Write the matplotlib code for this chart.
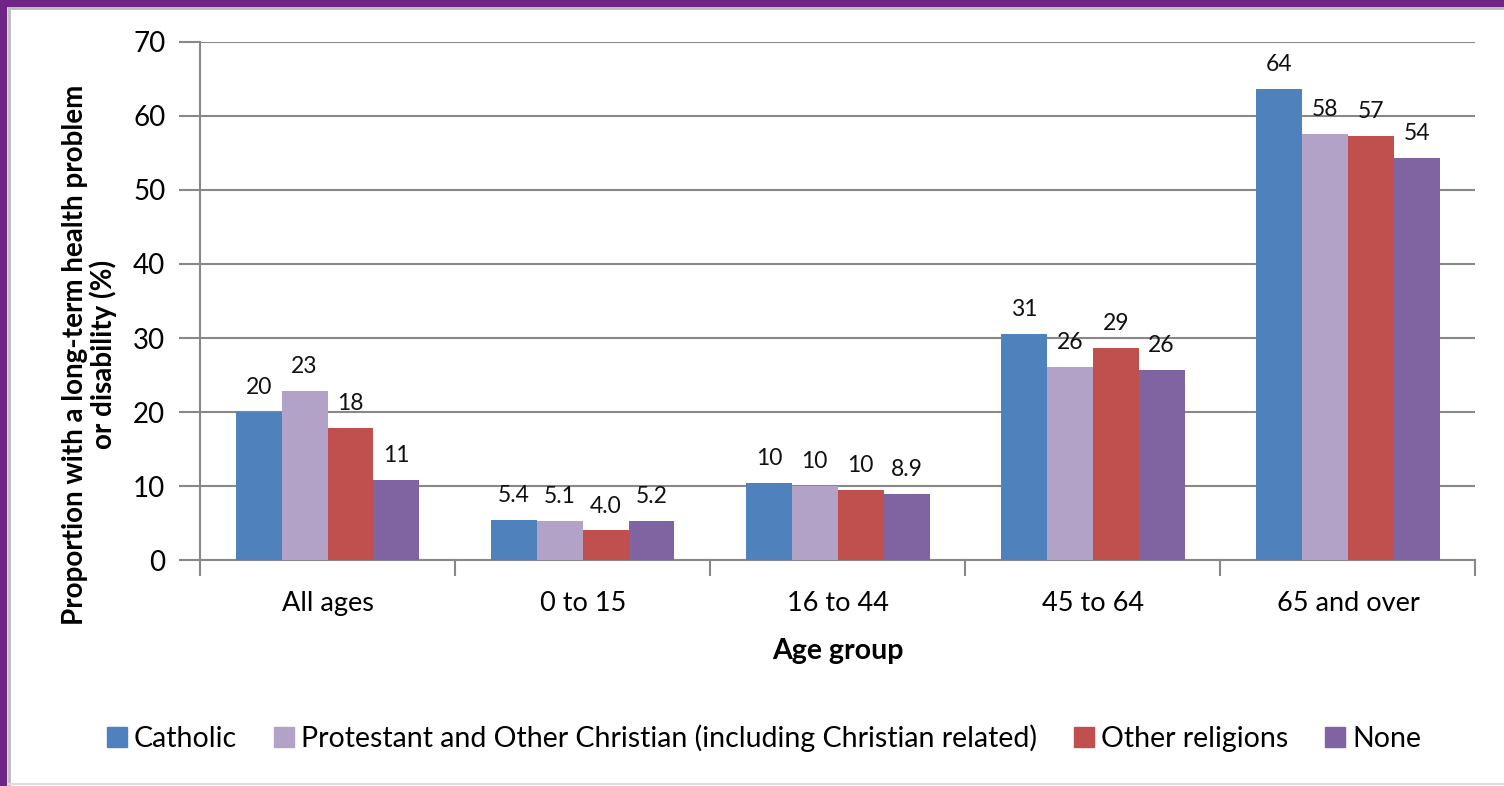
"""Long-term health problem or disability by religion and age group."""

import numpy as np
import matplotlib

matplotlib.use("Agg")
import matplotlib.pyplot as plt
from matplotlib.patches import Rectangle
from matplotlib.lines import Line2D

age_groups = ["All ages", "0 to 15", "16 to 44", "45 to 64", "65 and over"]
series_names = [
    "Catholic",
    "Protestant and Other Christian (including Christian related)",
    "Other religions",
    "None",
]
catholic = [20.0, 5.4, 10.4, 30.6, 63.7]
protestant = [22.8, 5.3, 10.0, 26.1, 57.6]
other_religions = [17.9, 4.0, 9.5, 28.6, 57.3]
no_religion = [10.8, 5.3, 8.9, 25.7, 54.3]
catholic_labels = ["20", "5.4", "10", "31", "64"]
protestant_labels = ["23", "5.1", "10", "26", "58"]
other_labels = ["18", "4.0", "10", "29", "57"]
none_labels = ["11", "5.2", "8.9", "26", "54"]
y_ticks = [0, 10, 20, 30, 40, 50, 60, 70]

colors = ["#4F81BD", "#B3A2C7", "#C0504D", "#8064A2"]
plt.rcParams["font.family"] = ["Lato", "DejaVu Sans"]

fig = plt.figure(figsize=(15.04, 7.86), dpi=100)
axis = fig.add_axes([0.133, 0.2875, 0.848, 0.6591])

series = [catholic, protestant, other_religions, no_religion]
labels = [catholic_labels, protestant_labels, other_labels, none_labels]
x = np.arange(len(age_groups))
bar_width = 0.18
for index, (values, texts) in enumerate(zip(series, labels)):
    offsets = x + (index - 1.5) * bar_width
    bars = axis.bar(offsets, values, width=bar_width, color=colors[index],
                    label=series_names[index], zorder=3)
    axis.bar_label(bars, labels=texts, padding=10, fontsize=16.5, color="#111111")

axis.set_xlim(-0.5, len(age_groups) - 0.5)
axis.set_ylim(0, 70)
axis.set_yticks(y_ticks)
axis.tick_params(axis="y", length=15, width=1.5, color="#888888", labelsize=20, pad=10)
axis.set_xticks(x)
axis.set_xticklabels(age_groups, fontsize=19.5)
axis.tick_params(axis="x", length=0, pad=22)
for boundary in np.arange(-0.5, len(age_groups)):
    axis.plot([boundary, boundary], [0, -2.0], color="#888888", lw=1.5,
              clip_on=False, zorder=4)
axis.grid(axis="y", color="#888888", linewidth=1.5, zorder=0)
for side in ["top", "right"]:
    axis.spines[side].set_visible(False)
axis.spines["left"].set_color("#888888")
axis.spines["left"].set_linewidth(1.5)
axis.spines["bottom"].set_color("#888888")
axis.spines["bottom"].set_linewidth(1.5)

axis.set_xlabel("Age group", fontsize=20.5, fontweight="bold", labelpad=16)
axis.set_ylabel("Proportion with a long-term health problem\nor disability (%)",
                fontsize=20, fontweight="bold", linespacing=1.05,
                va="center", ha="center")
axis.yaxis.set_label_coords(-0.0865, 0.396)

handles = [Rectangle((0, 0), 1, 1, color=c) for c in colors]
fig.legend(handles, series_names, loc="center", bbox_to_anchor=(0.508, 0.061),
           ncol=4, frameon=False, fontsize=20.5, handlelength=0.7,
           handleheight=0.7, handletextpad=0.25, columnspacing=1.3)

# purple frame and inner border
fig.patches.append(Rectangle((0, 1 - 6 / 786), 1, 6 / 786, transform=fig.transFigure,
                             color="#6F2585", zorder=0))
fig.patches.append(Rectangle((0, 0), 6 / 1504, 1, transform=fig.transFigure,
                             color="#6F2585", zorder=0))
fig.lines.append(Line2D([9 / 1504, 9 / 1504], [0, 1 - 8 / 786], transform=fig.transFigure,
                        color="#BBBBBB", lw=2))
fig.lines.append(Line2D([9 / 1504, 1], [1 - 8 / 786, 1 - 8 / 786], transform=fig.transFigure,
                        color="#BBBBBB", lw=2))
fig.lines.append(Line2D([9 / 1504, 1], [2 / 786, 2 / 786], transform=fig.transFigure,
                        color="#DDDDDD", lw=1.5))

fig.savefig("out.png", dpi=100)
